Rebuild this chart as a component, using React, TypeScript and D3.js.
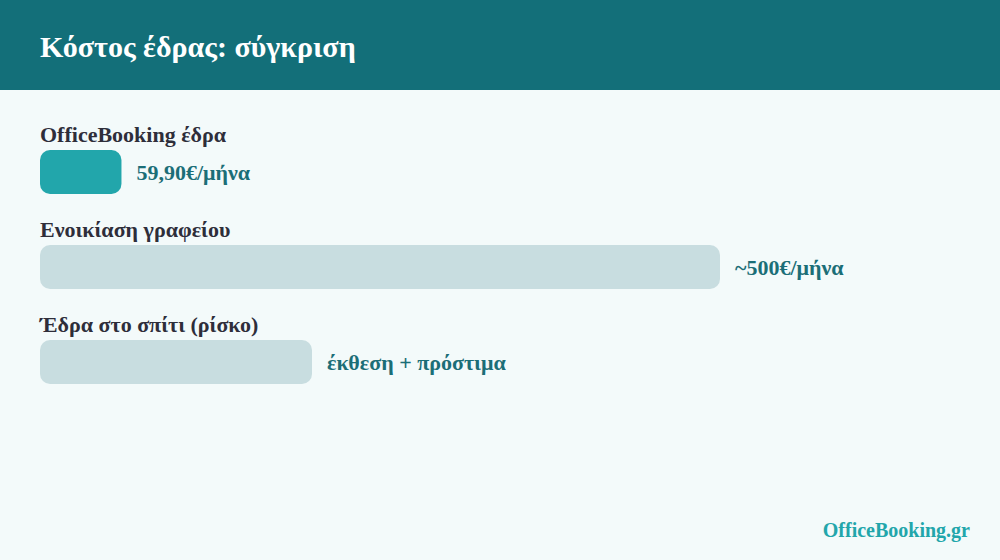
import React from "react";
import * as d3 from "d3";

const categories = ["OfficeBooking έδρα", "Ενοικίαση γραφείου", "Έδρα στο σπίτι (ρίσκο)"];
const values = [59.9, 500, 200];
const valueLabels = ["59,90€/μήνα", "~500€/μήνα", "έκθεση + πρόστιμα"];
const highlight = [true, false, false];
const title = "Κόστος έδρας: σύγκριση";
const footer = "OfficeBooking.gr";

const W = 1000;
const H = 560;
const FONT = "'Liberation Serif', 'Times New Roman', serif";

export default function App() {
  const x = d3.scaleLinear().domain([0, 500]).range([0, 680]);
  const y = d3
    .scaleBand<number>()
    .domain(d3.range(categories.length))
    .range([117, 402])
    .paddingInner(0);
  const barH = 44;

  return (
    <svg
      width={W}
      height={H}
      viewBox={`0 0 ${W} ${H}`}
      style={{ position: "absolute", left: 0, top: 0, display: "block" }}
    >
      <rect x={0} y={0} width={W} height={H} fill="#F3FAFA" />
      <rect x={0} y={0} width={W} height={90} fill="#136F79" />
      <text x={40} y={57} fill="#FFFFFF" fontFamily={FONT} fontWeight="bold" fontSize={30}>
        {title}
      </text>
      {categories.map((c, i) => {
        const top = y(i) as number;
        const barY = top + 33;
        const w = x(values[i]);
        return (
          <g key={c}>
            <text x={40} y={top + 25} fill="#2E2E3A" fontFamily={FONT} fontWeight="bold" fontSize={22}>
              {c}
            </text>
            <rect
              x={40 + x(0)}
              y={barY}
              width={w}
              height={barH}
              rx={10}
              fill={highlight[i] ? "#22A6AB" : "#C8DDE0"}
            />
            <text
              x={40 + w + 15}
              y={barY + barH / 2 + 8}
              fill="#1B6E77"
              fontFamily={FONT}
              fontWeight="bold"
              fontSize={22}
            >
              {valueLabels[i]}
            </text>
          </g>
        );
      })}
      <text
        x={970}
        y={537}
        textAnchor="end"
        fill="#22A6AB"
        fontFamily={FONT}
        fontWeight="bold"
        fontSize={20}
      >
        {footer}
      </text>
    </svg>
  );
}
